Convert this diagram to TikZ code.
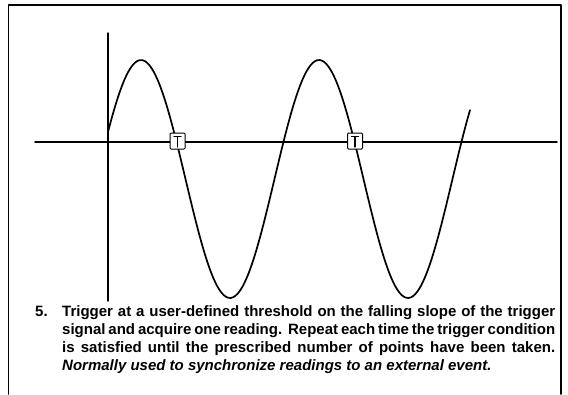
\documentclass[tikz,border=0pt]{standalone}
\usepackage{fontspec}
\setmainfont{Liberation Sans}
\begin{document}
\begin{tikzpicture}[x=1pt,y=-1pt,line cap=round,line join=round]
\tikzset{
  frameline/.style={line width=1.6pt},
  axisline/.style={line width=1.4pt},
  wave/.style={line width=1.7pt},
  trigbox/.style={draw,fill=white,line width=1pt,minimum width=15pt,minimum height=16pt,inner sep=0pt,rounded corners=1pt},
  tmark/.style={line width=1.1pt},
  caption/.style={inner sep=0pt,font=\bfseries\fontsize{15}{18}\selectfont}
}
\useasboundingbox (0,0) rectangle (568,394);
% frame (open at the bottom)
\coordinate (fbl) at (8.5,394);
\coordinate (ftl) at (8.5,5);
\coordinate (ftr) at (561,5);
\coordinate (fbr) at (561,394);
\draw[frameline] (fbl) -- (ftl) -- (ftr) -- (fbr);
% axes
\coordinate (ytop) at (108,33);
\coordinate (ybot) at (108,301);
\coordinate (xl) at (35,142);
\coordinate (xr) at (557,142);
\draw[axisline] (ytop) -- (ybot);
\draw[axisline] (xl) -- (xr);
% signal
\draw[wave] plot[domain=108:470,samples=160,smooth] (\x,{179-119*sin(2.02247*(\x-96.5))});
% trigger markers
\foreach \n/\cx in {trigA/177.5,trigB/355}{
  \node[trigbox] (\n) at (\cx,141) {};
  \draw[tmark] ([xshift=-3.5pt,yshift=4.5pt]\n.center) -- ([xshift=3.5pt,yshift=4.5pt]\n.center);
  \draw[tmark] ([yshift=4.5pt]\n.center) -- ([yshift=-6pt]\n.center);
}
% caption
\node[caption,anchor=base west] (num) at (35,316) {5.};
\node[caption,anchor=north west,text width=493pt,align=justify] (txt) at (62,305)
 {Trigger at a user-defined threshold on the falling slope of the trigger\linebreak
  signal and acquire one reading.\ \ Repeat each time the trigger condition\linebreak
  is satisfied until the prescribed number of points have been taken.\linebreak
  \textit{Normally used to synchronize readings to an external event.}};
\end{tikzpicture}
\end{document}
